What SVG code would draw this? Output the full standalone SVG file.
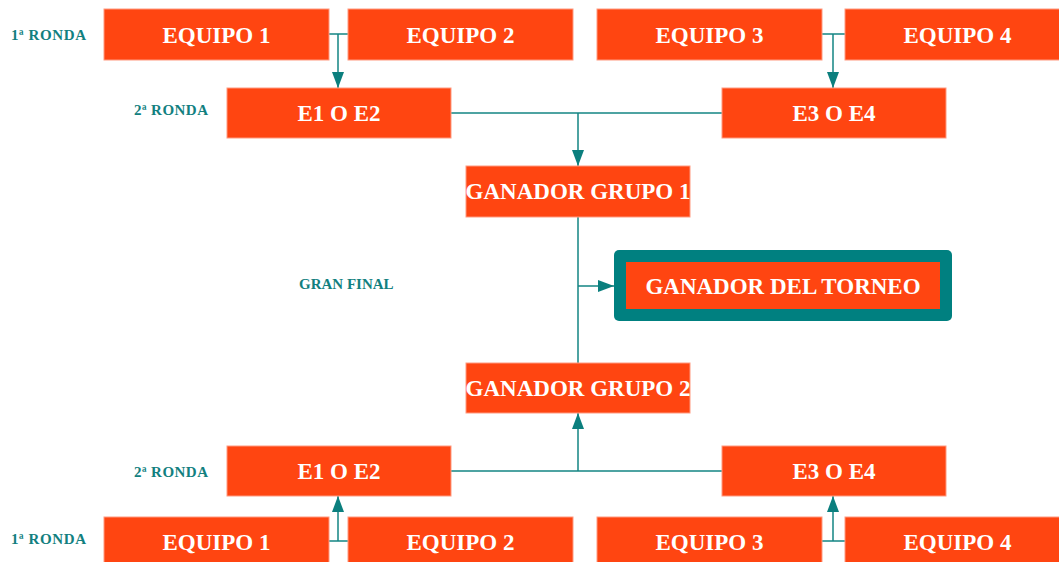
<svg xmlns="http://www.w3.org/2000/svg" width="1059" height="562" viewBox="0 0 1059 562">
<style>
.box{fill:#FF4511;stroke:#FF9A80;stroke-width:1}
.t{font-family:"Liberation Serif","DejaVu Serif",serif;font-weight:bold;font-size:23px;fill:#FFFFFF;text-anchor:middle}
.lbl{font-family:"Liberation Serif","DejaVu Serif",serif;font-weight:bold;font-size:15px;fill:#12807F}
.c{fill:none;stroke:#138583;stroke-width:1.5}
</style>
<defs>
<marker id="ah" markerUnits="userSpaceOnUse" markerWidth="16" markerHeight="12" refX="16" refY="6" orient="auto">
<path d="M0,0 L16,6 L0,12 z" fill="#0B7F7E"/>
</marker>
</defs>
<rect width="1059" height="562" fill="#FFFFFF"/>
<g id="labels">
<text class="lbl" x="11" y="40" textLength="75" lengthAdjust="spacing">1ª RONDA</text>
<text class="lbl" x="134" y="115" textLength="74" lengthAdjust="spacing">2ª RONDA</text>
<text class="lbl" x="299" y="289">GRAN FINAL</text>
<text class="lbl" x="134" y="477" textLength="74" lengthAdjust="spacing">2ª RONDA</text>
<text class="lbl" x="11" y="544" textLength="75" lengthAdjust="spacing">1ª RONDA</text>
</g>
<g id="connectors">
<path class="c" d="M329,34 H348"/>
<path class="c" d="M338,34 V88" marker-end="url(#ah)"/>
<path class="c" d="M821,34 H845"/>
<path class="c" d="M833,34 V88" marker-end="url(#ah)"/>
<path class="c" d="M451,113 H722"/>
<path class="c" d="M578,113 V166" marker-end="url(#ah)"/>
<path class="c" d="M578,217 V363"/>
<path class="c" d="M578,286 H614" marker-end="url(#ah)"/>
<path class="c" d="M451,471 H722"/>
<path class="c" d="M578,471 V413" marker-end="url(#ah)"/>
<path class="c" d="M329,541 H348"/>
<path class="c" d="M338,541 V496" marker-end="url(#ah)"/>
<path class="c" d="M821,541 H845"/>
<path class="c" d="M833,541 V496" marker-end="url(#ah)"/>
</g>
<g id="top-equipo1"><rect class="box" x="104" y="9" width="225" height="51"/><text class="t" x="216.5" y="42.5">EQUIPO 1</text></g>
<g id="top-equipo2"><rect class="box" x="348" y="9" width="225" height="51"/><text class="t" x="460.5" y="42.5">EQUIPO 2</text></g>
<g id="top-equipo3"><rect class="box" x="597" y="9" width="225" height="51"/><text class="t" x="709.5" y="42.5">EQUIPO 3</text></g>
<g id="top-equipo4"><rect class="box" x="845" y="9" width="225" height="51"/><text class="t" x="957.5" y="42.5">EQUIPO 4</text></g>
<g id="top-e1e2"><rect class="box" x="227" y="88" width="224" height="50"/><text class="t" x="339" y="120.5">E1 O E2</text></g>
<g id="top-e3e4"><rect class="box" x="722" y="88" width="224" height="50"/><text class="t" x="834" y="120.5">E3 O E4</text></g>
<g id="ganador1"><rect class="box" x="466" y="166" width="224" height="51"/><text class="t" x="578" y="199">GANADOR GRUPO 1</text></g>
<g id="torneo"><rect x="614" y="250" width="338" height="71" rx="5" fill="#008080"/><rect x="626" y="262" width="314" height="47" fill="#FF4511"/><text class="t" x="783" y="294">GANADOR DEL TORNEO</text></g>
<g id="ganador2"><rect class="box" x="466" y="363" width="224" height="50"/><text class="t" x="578" y="395.5">GANADOR GRUPO 2</text></g>
<g id="bot-e1e2"><rect class="box" x="227" y="446" width="224" height="50"/><text class="t" x="339" y="478.5">E1 O E2</text></g>
<g id="bot-e3e4"><rect class="box" x="722" y="446" width="224" height="50"/><text class="t" x="834" y="478.5">E3 O E4</text></g>
<g id="bot-equipo1"><rect class="box" x="104" y="517" width="225" height="51"/><text class="t" x="216.5" y="550">EQUIPO 1</text></g>
<g id="bot-equipo2"><rect class="box" x="348" y="517" width="225" height="51"/><text class="t" x="460.5" y="550">EQUIPO 2</text></g>
<g id="bot-equipo3"><rect class="box" x="597" y="517" width="225" height="51"/><text class="t" x="709.5" y="550">EQUIPO 3</text></g>
<g id="bot-equipo4"><rect class="box" x="845" y="517" width="225" height="51"/><text class="t" x="957.5" y="550">EQUIPO 4</text></g>
</svg>
